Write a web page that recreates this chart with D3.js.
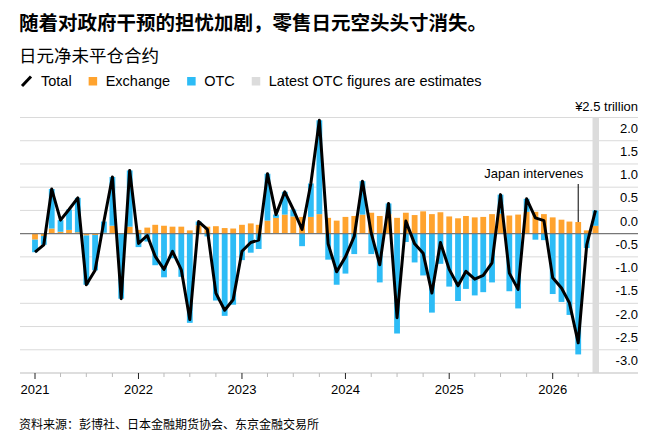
<!DOCTYPE html>
<html>
<head>
<meta charset="utf-8">
<script src="https://cdn.jsdelivr.net/npm/d3@7"></script>
<style>
  body { margin: 0; background: #fff; }
  text { font-family: "Liberation Sans", Arial, "Noto Sans CJK SC", sans-serif; fill: #000; }
  .cjk { font-family: "Noto Sans CJK SC", sans-serif; }
</style>
</head>
<body>
<div id="chart"></div>
<script>
// monthly values, Jan 2021 .. Jun 2026 (¥ trillion)
const startMonth = "2021-01"
const exchange = [
  -0.13, -0.05, 0.11, 0.04, 0.08, 0.03, -0.04, -0.03, 0.02, 0.17, 0.00, 0.15,
  0.08, 0.13, 0.19, 0.17, 0.15, 0.15, 0.07, 0.18, 0.15, 0.16, 0.12, 0.11,
  0.19, 0.22, 0.19, 0.28, 0.34, 0.41, 0.37, 0.36, 0.36, 0.42, 0.34, 0.28,
  0.36, 0.38, 0.41, 0.45, 0.38, 0.42, 0.34, 0.45, 0.40, 0.48, 0.42, 0.46,
  0.37, 0.33, 0.38, 0.35, 0.36, 0.42, 0.43, 0.39, 0.41, 0.47, 0.47, 0.42,
  0.35, 0.30, 0.26, 0.25, 0.07, 0.17
]
const otc = [
  -0.27, -0.19, 0.85, 0.25, 0.44, 0.74, -1.06, -0.76, 0.24, 1.05, -1.40, 1.21,
  -0.29, -0.17, -0.68, -0.94, -0.53, -0.93, -1.92, 0.08, -0.06, -1.44, -1.77, -1.53,
  -0.57, -0.41, -0.33, 1.01, 0.07, 0.49, 0.15, -0.27, 0.72, 2.02, -0.56, -1.10,
  -0.86, -0.44, 0.72, -0.44, -1.05, 0.23, -2.15, -0.18, -0.62, -0.90, -1.70, -0.65,
  -1.14, -1.45, -1.19, -1.33, -1.26, -1.05, 0.41, -1.24, -1.61, 0.28, -0.13, -0.14,
  -1.30, -1.47, -1.75, -2.60, -0.31, 0.33
]
const total = [
  -0.40, -0.24, 0.96, 0.29, 0.52, 0.77, -1.10, -0.79, 0.26, 1.22, -1.40, 1.36,
  -0.21, -0.04, -0.49, -0.77, -0.38, -0.78, -1.85, 0.26, 0.09, -1.28, -1.65, -1.42,
  -0.38, -0.19, -0.14, 1.29, 0.41, 0.90, 0.52, 0.09, 1.08, 2.44, -0.22, -0.82,
  -0.50, -0.06, 1.13, 0.01, -0.67, 0.65, -1.81, 0.27, -0.22, -0.42, -1.28, -0.19,
  -0.77, -1.12, -0.81, -0.98, -0.90, -0.63, 0.84, -0.85, -1.20, 0.75, 0.34, 0.28,
  -0.95, -1.17, -1.49, -2.35, -0.24, 0.50
]
const yTicks = [-3.0, -2.5, -2.0, -1.5, -1.0, -0.5, 0.0, 0.5, 1.0, 1.5, 2.0]
const yTopLabel = "¥2.5 trillion"
const annotation = { month: "2026-04", text: "Japan intervenes" }
const estimateMonth = "2026-06"

const title = "随着对政府干预的担忧加剧，零售日元空头头寸消失。"
const subtitle = "日元净未平仓合约"
const source = "资料来源：彭博社、日本金融期货协会、东京金融交易所"
const legendItems = ["Total", "Exchange", "OTC", "Latest OTC figures are estimates"]

const W = 667, H = 439
const COLORS = { exchange: "#ffa32e", otc: "#2dbcf6", band: "#dcdcdc", grid: "#dadada" }

const parseMonth = d3.timeParse("%Y-%m")
const start = parseMonth(startMonth)
const data = exchange.map((e, i) => ({
  date: d3.timeMonth.offset(start, i),
  exchange: e,
  otc: otc[i],
  total: total[i]
}))

const svg = d3.select("#chart").append("svg")
  .attr("width", W)
  .attr("height", H)

// scales
const x = d3.scaleTime()
  .domain([parseMonth("2021-01"), parseMonth("2026-01")])
  .range([35, 552.7])
const y = d3.scaleLinear()
  .domain([-3, 2.5])
  .range([373, 117.5])

const LEFT = 20, RIGHT = 638

// header
svg.append("text")
  .attr("class", "cjk")
  .attr("x", 19).attr("y", 30)
  .attr("font-size", "19.5px").attr("font-weight", "bold")
  .text(title)
svg.append("text")
  .attr("class", "cjk")
  .attr("x", 19).attr("y", 62)
  .attr("font-size", "17.5px")
  .text(subtitle)

// legend
const legend = svg.append("g").attr("transform", "translate(0, 86)")
legend.append("line")
  .attr("x1", 22).attr("y1", 0).attr("x2", 31).attr("y2", -9.5)
  .attr("stroke", "#000").attr("stroke-width", 3)
let lx = 41
const swatch = [null, COLORS.exchange, COLORS.otc, COLORS.band]
legendItems.forEach((label, i) => {
  if (i > 0) {
    legend.append("rect")
      .attr("x", lx).attr("y", -9).attr("width", 8.5).attr("height", 8.5)
      .attr("fill", swatch[i])
    lx += 17
  }
  const t = legend.append("text")
    .attr("x", lx).attr("y", 0)
    .attr("font-size", "14.5px")
    .text(label)
  lx += t.node().getComputedTextLength() + 17
})

// gridlines
const g = svg.append("g")
g.selectAll(".grid")
  .data(yTicks.concat([2.5]).filter(v => v !== 0))
  .join("line")
  .attr("class", "grid")
  .attr("x1", LEFT).attr("x2", RIGHT)
  .attr("y1", d => y(d)).attr("y2", d => y(d))
  .attr("stroke", COLORS.grid).attr("stroke-width", 1)

// estimate band
const bx = x(parseMonth(estimateMonth))
g.append("rect")
  .attr("x", bx - 3).attr("y", y(2.5))
  .attr("width", 6.5).attr("height", y(-3) - y(2.5))
  .attr("fill", COLORS.band)

// bars: exchange from zero, otc stacked beyond it when same sign
const BW = 5.8
const bars = g.append("g")
data.forEach(d => {
  const cx = x(d.date)
  bars.append("rect")
    .attr("x", cx - BW / 2).attr("width", BW)
    .attr("y", y(Math.max(0, d.exchange)))
    .attr("height", Math.abs(y(d.exchange) - y(0)))
    .attr("fill", COLORS.exchange)
  const base = (Math.sign(d.otc) === Math.sign(d.exchange)) ? d.exchange : 0
  const top = base + d.otc
  bars.append("rect")
    .attr("x", cx - BW / 2).attr("width", BW)
    .attr("y", y(Math.max(base, top)))
    .attr("height", Math.abs(y(top) - y(base)))
    .attr("fill", COLORS.otc)
})

// zero line
g.append("line")
  .attr("x1", LEFT).attr("x2", RIGHT)
  .attr("y1", y(0)).attr("y2", y(0))
  .attr("stroke", "#777").attr("stroke-width", 1.2)

// total line
const line = d3.line()
  .x(d => x(d.date))
  .y(d => y(d.total))
g.append("path")
  .attr("d", line(data))
  .attr("fill", "none")
  .attr("stroke", "#000")
  .attr("stroke-width", 3)
  .attr("stroke-linejoin", "round")

// y axis labels (above their gridlines, right aligned)
g.selectAll(".ylab")
  .data(yTicks)
  .join("text")
  .attr("class", "ylab")
  .attr("x", RIGHT).attr("y", d => y(d) - 8)
  .attr("text-anchor", "end")
  .attr("font-size", "13px")
  .attr("fill", "#111")
  .text(d => d3.format(".1f")(d).replace("−", "-"))
g.append("text")
  .attr("x", RIGHT).attr("y", y(2.5) - 7)
  .attr("text-anchor", "end")
  .attr("font-size", "13px")
  .text(yTopLabel)

// annotation
const ax = x(parseMonth(annotation.month))
const aIdx = data.findIndex(d => +d.date === +parseMonth(annotation.month))
g.append("line")
  .attr("x1", ax).attr("x2", ax)
  .attr("y1", 184).attr("y2", y(data[aIdx].exchange))
  .attr("stroke", "#000").attr("stroke-width", 1)
g.append("text")
  .attr("x", ax + 5).attr("y", 178)
  .attr("text-anchor", "end")
  .attr("font-size", "13px")
  .text(annotation.text)

// x axis
const xAxis = g.append("g").attr("transform", `translate(0, ${y(-3)})`)
xAxis.append("line")
  .attr("x1", LEFT).attr("x2", RIGHT)
  .attr("stroke", "#cfcfcf")
const minor = d3.timeMonth.every(3).range(parseMonth("2021-01"), parseMonth("2026-07"))
  .filter(d => d.getMonth() !== 0)
xAxis.selectAll(".minor")
  .data(minor)
  .join("line")
  .attr("x1", d => x(d)).attr("x2", d => x(d))
  .attr("y1", 0).attr("y2", 4)
  .attr("stroke", "#bbb")
const years = d3.timeYear.range(parseMonth("2021-01"), parseMonth("2026-02"))
xAxis.selectAll(".major")
  .data(years)
  .join("line")
  .attr("x1", d => x(d)).attr("x2", d => x(d))
  .attr("y1", 0).attr("y2", 6)
  .attr("stroke", "#222")
xAxis.selectAll(".ylbl")
  .data(years)
  .join("text")
  .attr("x", d => x(d)).attr("y", 21)
  .attr("text-anchor", "middle")
  .attr("font-size", "13px")
  .text(d3.timeFormat("%Y"))

// source
svg.append("text")
  .attr("class", "cjk")
  .attr("x", 19).attr("y", 429)
  .attr("font-size", "12px")
  .attr("fill", "#333")
  .text(source)
</script>
</body>
</html>
